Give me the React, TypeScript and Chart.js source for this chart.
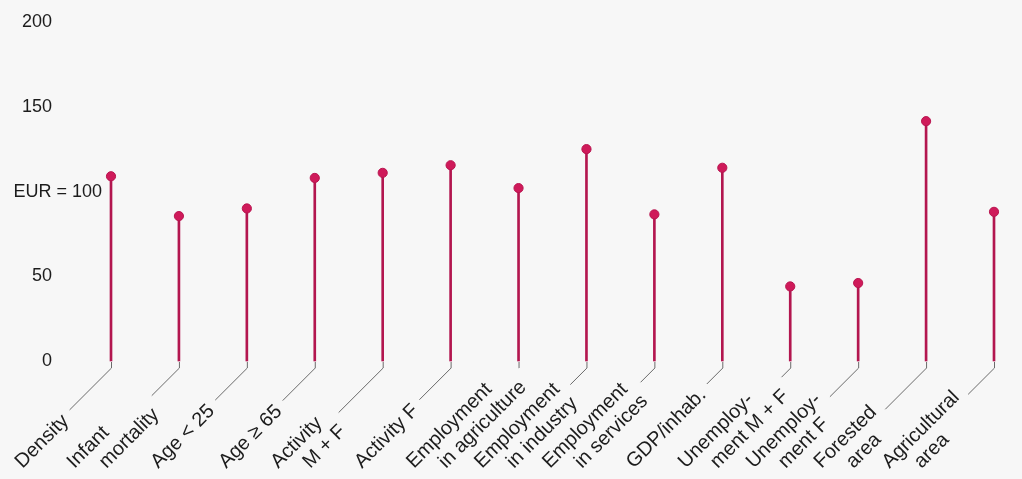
import React, { useEffect, useRef } from "react";
import { Chart, registerables } from "chart.js";

Chart.register(...registerables);

const categories: string[][] = [
  ["Density"],
  ["Infant", "mortality"],
  ["Age < 25"],
  ["Age ≥ 65"],
  ["Activity", "M + F"],
  ["Activity F"],
  ["Employment", "in agriculture"],
  ["Employment", "in industry"],
  ["Employment", "in services"],
  ["GDP/inhab."],
  ["Unemploy-", "ment M + F"],
  ["Unemploy-", "ment F"],
  ["Forested", "area"],
  ["Agricultural", "area"],
];

const values: number[] = [109, 85.5, 90, 108, 111, 115.5, 102, 125, 86.5, 114, 44, 46, 141.5, 88];

const yTicks: number[] = [0, 50, 100, 150, 200];
const referenceLabel = "EUR = 100";
const referenceValue = 100;

const FONT = "'Liberation Sans', Arial, Helvetica, sans-serif";
const TEXT_COLOR = "#1c1c1c";
const STEM_COLOR = "#b3164f";
const DOT_COLOR = "#cf1a5a";

const labelPlugin = {
  id: "lollipopLabels",
  afterDraw(chart: any) {
    const { ctx, chartArea } = chart;
    const xScale = chart.scales.x;
    const yScale = chart.scales.y;
    const zeroY = yScale.getPixelForValue(0);
    ctx.save();
    // reference label for EUR = 100
    ctx.font = `18px ${FONT}`;
    ctx.fillStyle = TEXT_COLOR;
    ctx.textAlign = "right";
    ctx.textBaseline = "middle";
    ctx.fillText(referenceLabel, chartArea.left - 9, yScale.getPixelForValue(referenceValue) + 1);

    // category labels, rotated, with leader lines
    ctx.font = `20px ${FONT}`;
    ctx.textAlign = "left";
    ctx.textBaseline = "alphabetic";
    const baseY = zeroY + 108;
    const s2 = Math.SQRT2;
    categories.forEach((lines, i) => {
      const tx = xScale.getPixelForValue(i);
      const n = lines.length;
      let maxA = -Infinity;
      lines.forEach((line, k) => {
        const sx = tx - 88.5 + 32 * (k - (n - 1) / 2);
        const w = ctx.measureText(line).width;
        ctx.save();
        ctx.translate(sx, baseY);
        ctx.rotate(-Math.PI / 4);
        ctx.fillStyle = TEXT_COLOR;
        ctx.fillText(line, 0, 0);
        ctx.restore();
        const a = sx - baseY + s2 * w;
        if (a > maxA) maxA = a;
      });
      const y0 = zeroY + 7;
      const target = maxA + 8 * s2;
      const t = Math.max(0, (tx - y0 - target) / 2);
      ctx.beginPath();
      ctx.strokeStyle = "#6a6a6a";
      ctx.lineWidth = 1;
      ctx.moveTo(tx + 0.5, zeroY + 1);
      ctx.lineTo(tx + 0.5, y0);
      ctx.lineTo(tx + 0.5 - t, y0 + t);
      ctx.stroke();
    });
    ctx.restore();
  },
};

export default function App() {
  const canvasRef = useRef<HTMLCanvasElement | null>(null);

  useEffect(() => {
    if (!canvasRef.current) return;
    const chart = new Chart(canvasRef.current, {
      type: "bar",
      data: {
        labels: categories.map((c) => c.join(" ")),
        datasets: [
          {
            type: "line",
            data: values,
            showLine: false,
            pointRadius: 4.6,
            pointHoverRadius: 4.6,
            pointBackgroundColor: DOT_COLOR,
            pointBorderColor: "#b8144f",
            pointBorderWidth: 1,
            clip: false,
            order: 0,
          } as any,
          {
            type: "bar",
            data: values,
            backgroundColor: STEM_COLOR,
            barThickness: 2,
            clip: false,
            order: 1,
          } as any,
        ],
      },
      options: {
        animation: false,
        responsive: true,
        maintainAspectRatio: false,
        events: [],
        layout: { padding: { top: 22, right: 28, bottom: 118, left: 0 } },
        plugins: {
          legend: { display: false },
          tooltip: { enabled: false },
        },
        scales: {
          x: {
            type: "category",
            offset: false,
            display: false,
            grid: { display: false },
          },
          y: {
            min: 0,
            max: 200,
            afterBuildTicks: (scale: any) => {
              scale.ticks = yTicks.map((v) => ({ value: v }));
            },
            afterFit: (scale: any) => {
              scale.width = 111;
              scale.paddingTop = 0;
              scale.paddingBottom = 0;
            },
            ticks: {
              padding: 59,
              color: TEXT_COLOR,
              font: { family: FONT, size: 18 },
              callback: (v: any) => (Number(v) === referenceValue ? "" : String(v)),
            },
            grid: { display: false, drawTicks: false },
            border: { display: false },
          },
        },
      },
      plugins: [labelPlugin],
    });
    return () => chart.destroy();
  }, []);

  return (
    <div
      style={{
        position: "fixed",
        left: 0,
        top: 0,
        width: 1022,
        height: 479,
        background: "#f7f7f7",
      }}
    >
      <canvas ref={canvasRef} />
    </div>
  );
}
